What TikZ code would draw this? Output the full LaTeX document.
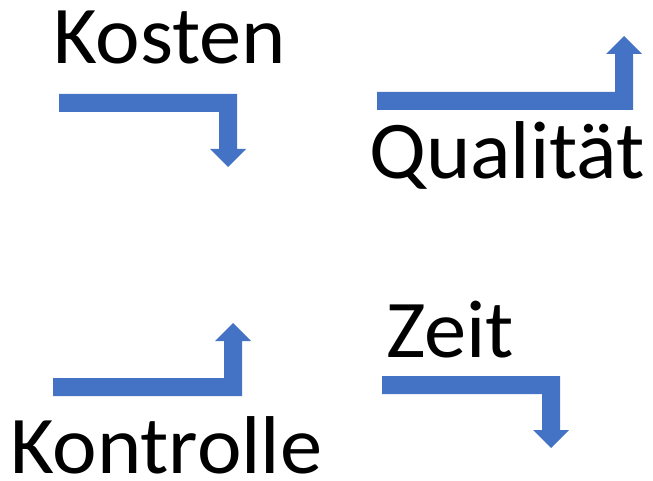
\documentclass[tikz,border=0pt]{standalone}
\usepackage{fontspec}
\setmainfont{Carlito}[FakeStretch=1.03]
\definecolor{pfeilblau}{HTML}{4472C4}
\tikzset{
  wort/.style={anchor=base west, inner sep=0pt, font=\fontsize{82}{96}\selectfont},
  pfeil/.style={fill=pfeilblau, draw=none}
}
\begin{document}
\begin{tikzpicture}[x=1pt,y=-1pt]
			\useasboundingbox (0,0) rectangle (653,481);
			\node[wort] (kosten) at (53,64) {Kosten};
			\node[wort] (qualitaet) at (369,179) {Qualität};
			\node[wort] (zeit) at (386,357) {Zeit};
			\node[wort] (kontrolle) at (10,473) {Kontrolle};
			% Pfeile: linkes Ende, Balkenkante, rechtes Ende, Spitze, Richtung
			\foreach \l/\e/\r/\t/\s in {59/94/237/167/1, 377/110/633/36/-1, 53/396/242/323/-1, 382/376/560/448/1}{
				\fill [pfeil] (\l,\e) -- (\r,\e) -- (\r,\t-18*\s) -- (\r+9,\t-18*\s)
					-- (\r-9,\t) -- (\r-27,\t-18*\s) -- (\r-18,\t-18*\s)
					-- (\r-18,\e+18*\s) -- (\l,\e+18*\s) -- cycle;
			}
			\end{tikzpicture}
\end{document}
